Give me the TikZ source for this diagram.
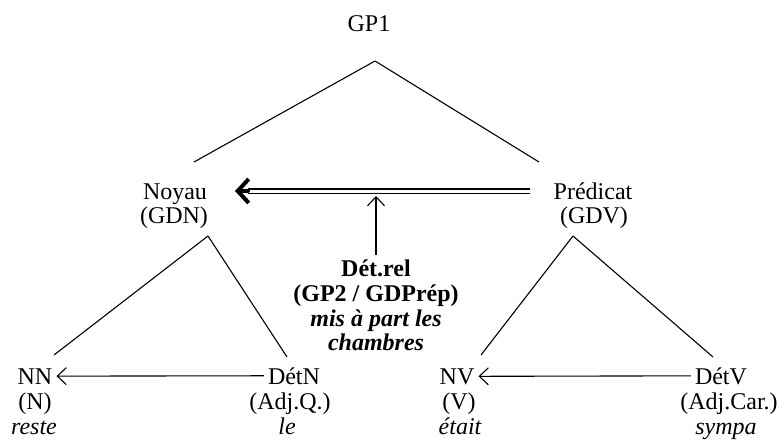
\documentclass[tikz,border=0pt]{standalone}
\usepackage{fontspec}
\setmainfont{Liberation Serif}
\usetikzlibrary{arrows.meta}
\begin{document}
\begin{tikzpicture}[x=1pt,y=-1pt,
  txt/.style={inner sep=0pt, anchor=base, font=\fontsize{24}{25}\selectfont},
  bf/.style={txt, font=\fontsize{24}{25}\selectfont\bfseries},
  bfit/.style={txt, font=\fontsize{24}{25}\selectfont\bfseries\itshape},
  it/.style={txt, font=\fontsize{24}{25}\selectfont\itshape},
  edge/.style={line width=1.1pt},
  thinarrow/.style={line width=1.1pt, -{Straight Barb[length=9pt,width=17pt,line width=1.1pt]}}]
\useasboundingbox (0,0) rectangle (782,444);
% top
\node[txt] (gp1) at (369,32) {GP1};
\coordinate (apex) at (375,61);
% level 2
\node[txt] (noyau) at (175,199) {Noyau};
\node[txt] (gdn) at (174,223) {(GDN)};
\node[txt] (pred) at (593,199) {Prédicat};
\node[txt] (gdv) at (594,223) {(GDV)};
\coordinate (noyauTop) at (194,162);
\coordinate (predTop) at (539,162);
\draw[edge] (apex) -- (noyauTop);
\draw[edge] (apex) -- (predTop);
% relative determiner
\node[bf] (detrel) at (376,276) {Dét.rel};
\node[bf] (gp2) at (376,301) {(GP2 / GDPrép)};
\node[bfit] (mis) at (376,326) {mis à part les};
\node[bfit] (ch) at (376,350) {chambres};
% double arrow
\coordinate (dblStart) at (530,191);
\coordinate (dblEnd) at (248,191);
\coordinate (tip) at (235,191);
\draw[line width=1.7pt, double distance=3pt] (dblStart) -- (dblEnd);
\draw[line width=4pt, line cap=round, -{Straight Barb[length=11pt,width=24pt,line width=4pt]}] (dblEnd) -- (tip);
\coordinate (relTop) at (376,196);
\draw[thinarrow] (detrel.north) ++(0,-4) coordinate (relBot) -- (relTop);
% left subtree
\coordinate (lapex) at (208,236);
\coordinate (lleft) at (54,355);
\coordinate (lright) at (287,357);
\draw[edge] (lapex) -- (lleft);
\draw[edge] (lapex) -- (lright);
\node[txt] (nn) at (35,384) {NN};
\node[txt] (nnb) at (35,409) {(N)};
\node[it] (nnc) at (34,434) {reste};
\node[txt] (detn) at (294,384) {DétN};
\node[txt] (detnb) at (290,409) {(Adj.Q.)};
\node[it] (detnc) at (287,434) {le};
\draw[thinarrow] ([xshift=-4pt]detn.west) -- ([xshift=4pt]nn.east);
% right subtree
\coordinate (rapex) at (573,236);
\coordinate (rleft) at (481,355);
\coordinate (rright) at (713,357);
\draw[edge] (rapex) -- (rleft);
\draw[edge] (rapex) -- (rright);
\node[txt] (nv) at (457,384) {NV};
\node[txt] (nvb) at (459,409) {(V)};
\node[it] (nvc) at (460,434) {était};
\node[txt] (detv) at (721,384) {DétV};
\node[txt] (detvb) at (729,409) {(Adj.Car.)};
\node[it] (detvc) at (726,434) {sympa};
\draw[thinarrow] ([xshift=-4pt]detv.west) -- ([xshift=4pt]nv.east);
\end{tikzpicture}
\end{document}
